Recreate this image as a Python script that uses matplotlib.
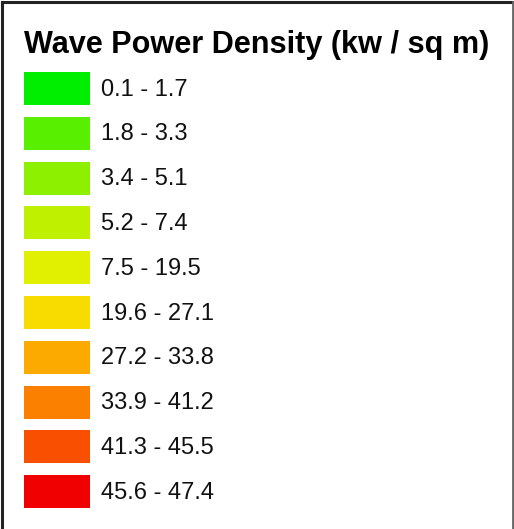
import matplotlib.pyplot as plt

title = "Wave Power Density (kw / sq m)"
labels = ["0.1 - 1.7", "1.8 - 3.3", "3.4 - 5.1", "5.2 - 7.4", "7.5 - 19.5",
          "19.6 - 27.1", "27.2 - 33.8", "33.9 - 41.2", "41.3 - 45.5", "45.6 - 47.4"]
swatch_colors = ["#00ee00", "#58f000", "#8cf000", "#bef000", "#e0f000",
                 "#f8dc00", "#fcaa00", "#fc8000", "#f85000", "#f00000"]

plt.rcParams['font.family'] = ['Liberation Sans', 'DejaVu Sans']

W, H = 514, 529
fig = plt.figure(figsize=(W / 100, H / 100), dpi=100)
ax = fig.add_axes([0, 0, 1, 1])
ax.set_xlim(0, W)
ax.set_ylim(H, 0)
ax.axis("off")

# frame (no bottom edge in the original)
ax.plot([1.5, 1.5], [H, 1.5], color="#222222", lw=2.2)
ax.plot([1.5, 512.5], [1.5, 1.5], color="#222222", lw=2.2)
ax.plot([512.5, 512.5], [1.5, H], color="#666666", lw=2.0)

ax.text(24, 45, title, fontsize=22.1, fontweight="bold", va="center", ha="left")

top0, pitch, h = 72, 44.8, 33
ys = [top0 + i * pitch + h / 2 for i in range(len(labels))]
ax.barh(ys, [66] * len(labels), left=24, height=h, color=swatch_colors,
        edgecolor="none")
for y, lab in zip(ys, labels):
    ax.text(101, y + 1, lab, fontsize=17, va="center", ha="left", color="#111111")

fig.savefig("out.png", dpi=100)
